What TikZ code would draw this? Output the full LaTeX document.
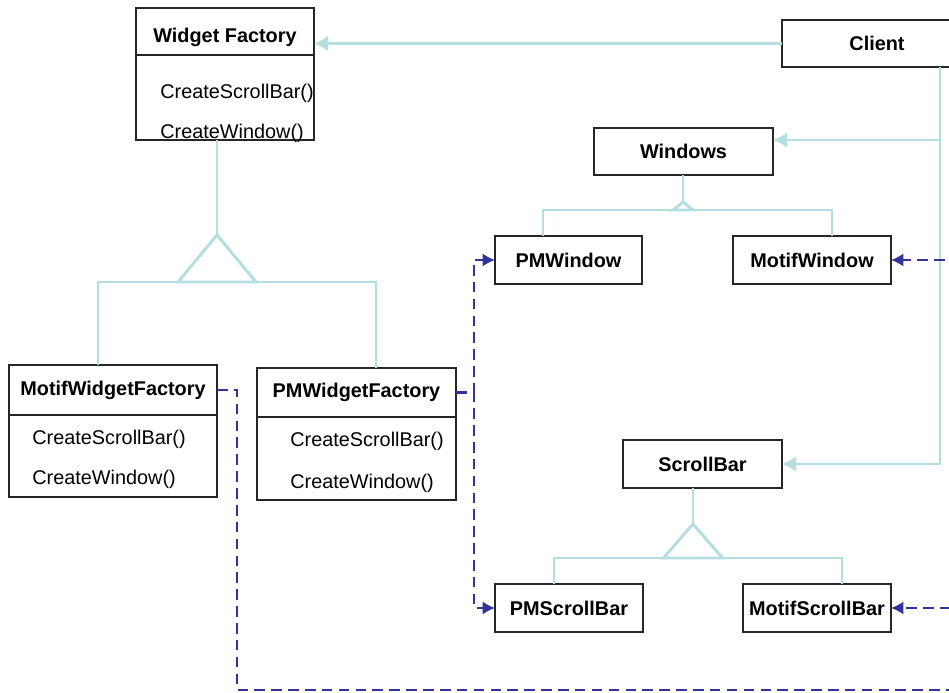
\documentclass[tikz,border=0pt]{standalone}
\usepackage{fontspec}
\setmainfont{Liberation Sans}
\usetikzlibrary{arrows.meta}

\definecolor{linkcol}{RGB}{180,222,224}
\definecolor{depcol}{RGB}{51,51,153}
\def\fsz{\fontsize{11.3}{13}\selectfont}

\begin{document}
\begin{tikzpicture}[
    cls/.style={draw=black!85, line width=1.1pt, inner sep=0pt, outer sep=0pt, font=\fsz\bfseries},
    ops/.style={draw=black!85, line width=1.1pt, inner sep=0pt, outer sep=0pt},
    op/.style={anchor=west, inner sep=0pt, font=\fsz},
    gen/.style={draw=linkcol, line width=1.7pt},
    assoc/.style={gen, -{Latex[length=8pt,width=9pt]}},
    dep/.style={draw=depcol, line width=1.7pt, dash pattern=on 6pt off 3.6pt},
    deparrow/.style={dep, -{Latex[length=7pt,width=7.5pt]}}
]
\useasboundingbox (0,0) rectangle (18.98,-13.86);
\clip (0,0) rectangle (18.98,-13.86);

% factories
\node[cls, minimum width=3.56cm, minimum height=0.94cm, text height=0.46cm, text depth=0pt] (wf) at (4.5,-0.63) {Widget Factory};
\node[ops, minimum width=3.56cm, minimum height=1.70cm, anchor=north] (wfops) at (wf.south) {};
\node[op] (wfm1) at (3.2,-1.86) {CreateScrollBar()};
\node[op] (wfm2) at (3.2,-2.66) {CreateWindow()};

\node[cls, minimum width=4.16cm, minimum height=1.0cm] (mwf) at (2.26,-7.8) {MotifWidgetFactory};
\node[ops, minimum width=4.16cm, minimum height=1.64cm, anchor=north] (mwfops) at (mwf.south) {};
\node[op] (mwfm1) at (0.64,-8.78) {CreateScrollBar()};
\node[op] (mwfm2) at (0.64,-9.58) {CreateWindow()};

\node[cls, minimum width=3.98cm, minimum height=0.98cm] (pmwf) at (7.13,-7.85) {PMWidgetFactory};
\node[ops, minimum width=3.98cm, minimum height=1.66cm, anchor=north] (pmwfops) at (pmwf.south) {};
\node[op] (pmwfm1) at (5.8,-8.82) {CreateScrollBar()};
\node[op] (pmwfm2) at (5.8,-9.66) {CreateWindow()};

% products
\node[cls, minimum width=3.8cm, minimum height=0.94cm] (client) at (17.54,-0.87) {Client};
\node[cls, minimum width=3.58cm, minimum height=0.94cm] (windows) at (13.67,-3.03) {Windows};
\node[cls, minimum width=2.94cm, minimum height=0.96cm] (pmwindow) at (11.37,-5.2) {PMWindow};
\node[cls, minimum width=3.16cm, minimum height=0.96cm] (motifwindow) at (16.24,-5.2) {MotifWindow};
\node[cls, minimum width=3.18cm, minimum height=0.96cm] (scrollbar) at (14.05,-9.28) {ScrollBar};
\node[cls, minimum width=2.96cm, minimum height=0.96cm] (pmscrollbar) at (11.38,-12.16) {PMScrollBar};
\node[cls, minimum width=2.96cm, minimum height=0.96cm] (motifscrollbar) at (16.34,-12.16) {MotifScrollBar};

% client links
\draw[assoc] (client.west) -- (client.west -| wf.east);
\coordinate (rail) at (18.8,-1.34);
\draw[assoc] (rail) |- ([yshift=0.23cm]windows.east);
\draw[assoc] (rail) |- (scrollbar.east);

% inheritance
\coordinate (wftip) at (4.34,-4.70);
\draw[gen] (wftip |- wfops.south) -- (wftip);
\draw[gen] (wftip) -- ++(-0.78,-0.94) -- ++(1.56,0) -- cycle;
\draw[gen] (1.96,0 |- mwf.north) |- (7.52,-5.64) -- (7.52,0 |- pmwf.north);

\coordinate (wintip) at (13.66,-4.04);
\draw[gen] (wintip |- windows.south) -- (wintip);
\draw[gen] (wintip) -- ++(-0.2,-0.16) -- ++(0.4,0) -- cycle;
\draw[gen] (10.86,0 |- pmwindow.north) |- (16.64,-4.20) -- (16.64,0 |- motifwindow.north);

\coordinate (sbtip) at (13.86,-10.48);
\draw[gen] (sbtip |- scrollbar.south) -- (sbtip);
\draw[gen] (sbtip) -- ++(-0.59,-0.68) -- ++(1.18,0) -- cycle;
\draw[gen] (11.08,0 |- pmscrollbar.north) |- (16.84,-11.16) -- (16.84,0 |- motifscrollbar.north);

% creates
\coordinate (mrail) at (19.4,-13.8);
\draw[dep] (mwf.east) -| (4.74,-13.8) -- (mrail);
\draw[deparrow] (mrail) |- (motifwindow.east);
\draw[deparrow] (mrail) |- (motifscrollbar.east);
\draw[deparrow] (pmwf.east) -| (9.48,-6) |- (pmwindow.west);
\draw[deparrow] (pmwf.east) -| (9.48,-10) |- (pmscrollbar.west);
\end{tikzpicture}
\end{document}
